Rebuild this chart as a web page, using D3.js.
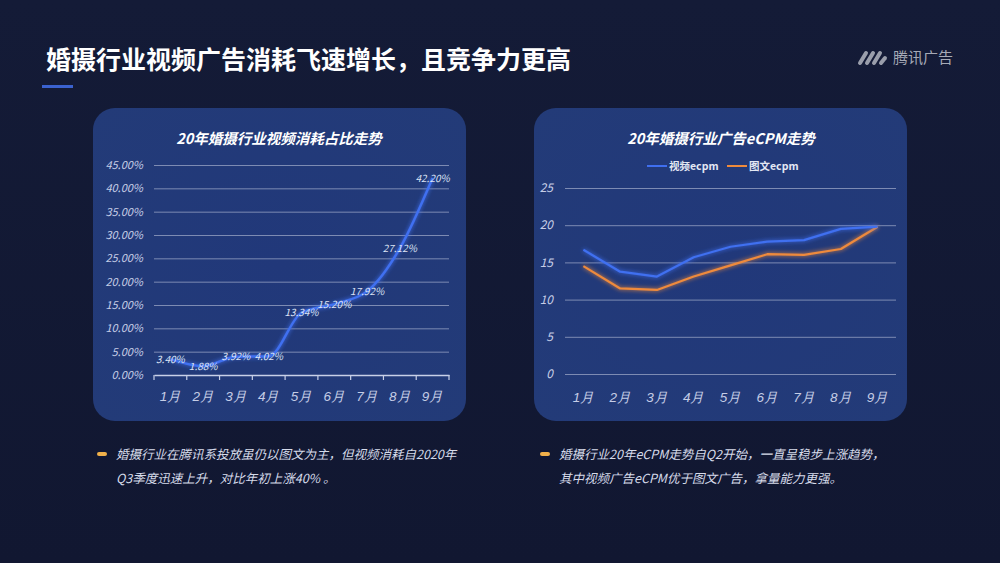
<!DOCTYPE html>
<html>
<head>
<meta charset="utf-8">
<script src="https://cdn.jsdelivr.net/npm/d3@7"></script>
<style>
  html, body { margin: 0; padding: 0; background: #131a35; }
  svg { display: block; font-family: "Noto Sans CJK SC", "Noto Sans", sans-serif; }
</style>
</head>
<body>
<div id="chart"></div>
<script>
const months = ["1月", "2月", "3月", "4月", "5月", "6月", "7月", "8月", "9月"];
const videoShare = [3.40, 1.88, 3.92, 4.02, 13.34, 15.20, 17.92, 27.12, 42.20];
const shareTicks = [0, 5, 10, 15, 20, 25, 30, 35, 40, 45];
const videoEcpm = [16.7, 13.75, 13.1, 15.7, 17.1, 17.8, 18.0, 19.5, 19.8];
const imageEcpm = [14.5, 11.5, 11.3, 13.1, 14.6, 16.1, 16.0, 16.8, 19.8];
const ecpmTicks = [0, 5, 10, 15, 20, 25];

const W = 1000, H = 563;
const svg = d3.select("#chart").append("svg")
    .attr("width", W)
    .attr("height", H);

const defs = svg.append("defs");

const bg = defs.append("linearGradient").attr("id", "bgGrad")
    .attr("x1", 0).attr("y1", 0).attr("x2", 0).attr("y2", 1);
bg.append("stop").attr("offset", "0%").attr("stop-color", "#141b37");
bg.append("stop").attr("offset", "100%").attr("stop-color", "#111731");

const panelGrad = defs.append("radialGradient").attr("id", "panelGrad")
    .attr("cx", "50%").attr("cy", "50%").attr("r", "70%");
panelGrad.append("stop").attr("offset", "0%").attr("stop-color", "#21387a");
panelGrad.append("stop").attr("offset", "100%").attr("stop-color", "#233b78");

const glow = defs.append("filter").attr("id", "glow")
    .attr("x", "-10%").attr("y", "-30%").attr("width", "120%").attr("height", "160%");
glow.append("feGaussianBlur").attr("stdDeviation", 2.2).attr("result", "blur");
const merge = glow.append("feMerge");
merge.append("feMergeNode").attr("in", "blur");
merge.append("feMergeNode").attr("in", "SourceGraphic");

svg.append("rect").attr("width", W).attr("height", H).attr("fill", "url(#bgGrad)");

// page title
svg.append("text")
    .attr("x", 46).attr("y", 69)
    .attr("fill", "#ffffff")
    .attr("font-size", 25)
    .attr("font-weight", "bold")
    .text("婚摄行业视频广告消耗飞速增长，且竞争力更高");

svg.append("rect")
    .attr("x", 42).attr("y", 85).attr("width", 31).attr("height", 3)
    .attr("fill", "#3b62cf");

// logo
const logo = svg.append("g").attr("transform", "translate(858,50)");
[0, 7, 14].forEach(dx => {
    logo.append("line")
        .attr("x1", dx + 2).attr("y1", 13)
        .attr("x2", dx + 8).attr("y2", 3)
        .attr("stroke", "#9a9eab").attr("stroke-width", 4)
        .attr("stroke-linecap", "round");
});
logo.append("line")
    .attr("x1", 23).attr("y1", 13).attr("x2", 27).attr("y2", 8)
    .attr("stroke", "#9a9eab").attr("stroke-width", 4).attr("stroke-linecap", "round");
svg.append("text")
    .attr("x", 893).attr("y", 63)
    .attr("fill", "#a6aab6")
    .attr("font-size", 15)
    .text("腾讯广告");

// panels
function panel(x) {
    svg.append("rect")
        .attr("x", x).attr("y", 108)
        .attr("width", 373).attr("height", 313)
        .attr("rx", 22)
        .attr("fill", "url(#panelGrad)");
}
panel(93);
panel(534);

// ---------- left chart ----------
const left = { x0: 154, x1: 449, y0: 375, y1: 165 };

svg.append("text")
    .attr("x", 279).attr("y", 144)
    .attr("text-anchor", "middle")
    .attr("fill", "#ffffff")
    .attr("font-size", 14.5)
    .attr("font-weight", "bold")
    .attr("font-style", "italic")
    .text("20年婚摄行业视频消耗占比走势");

const xL = d3.scaleBand().domain(months).range([left.x0, left.x1]);
const yL = d3.scaleLinear().domain([0, 45]).range([left.y0, left.y1]);

svg.append("g")
    .attr("transform", `translate(${left.x0},0)`)
    .call(d3.axisLeft(yL).tickValues(shareTicks.slice(1)).tickSize(-(left.x1 - left.x0)).tickFormat(""))
    .call(g => g.select(".domain").remove())
    .call(g => g.selectAll("line").attr("stroke", "#7d8bb3").attr("stroke-width", 1));

svg.append("g")
    .call(g => g.selectAll("text").data(shareTicks).enter().append("text")
        .attr("x", 143).attr("y", d => yL(d))
        .attr("dy", "0.35em")
        .attr("text-anchor", "end")
        .attr("fill", "#c5cde6")
        .attr("font-size", 11)
        .attr("font-style", "italic")
        .text(d => d.toFixed(2) + "%"));

const xAxisL = svg.append("g")
    .attr("transform", `translate(0,${left.y0})`)
    .call(d3.axisBottom(xL).tickSize(0).tickPadding(16));
xAxisL.select(".domain").attr("stroke", "#c8d0e8").attr("stroke-width", 1.5);
xAxisL.selectAll("text")
    .attr("fill", "#c5cde6")
    .attr("font-size", 13.5)
    .attr("font-style", "italic");
xAxisL.selectAll(".bound").data(d3.range(months.length + 1)).enter().append("line")
    .attr("x1", i => left.x0 + i * xL.bandwidth())
    .attr("x2", i => left.x0 + i * xL.bandwidth())
    .attr("y1", 0).attr("y2", 5)
    .attr("stroke", "#c8d0e8").attr("stroke-width", 1.2);

const lineL = d3.line()
    .x((d, i) => xL(months[i]) + xL.bandwidth() / 2)
    .y(d => yL(d))
    .curve(d3.curveMonotoneX);

svg.append("path")
    .datum(videoShare)
    .attr("d", lineL)
    .attr("fill", "none")
    .attr("stroke", "#3f6ff0")
    .attr("stroke-width", 2.5)
    .attr("filter", "url(#glow)");

svg.selectAll(".share-label")
    .data(videoShare)
    .enter().append("text")
    .attr("class", "share-label")
    .attr("x", (d, i) => xL(months[i]) + xL.bandwidth() / 2)
    .attr("y", d => yL(d))
    .attr("dy", "0.35em")
    .attr("text-anchor", "middle")
    .attr("fill", "#dde3f5")
    .attr("font-size", 10)
    .attr("font-style", "italic")
    .text(d => d.toFixed(2) + "%");

// ---------- right chart ----------
const right = { x0: 565, x1: 896, y0: 374, y1: 188 };

svg.append("text")
    .attr("x", 721).attr("y", 144)
    .attr("text-anchor", "middle")
    .attr("fill", "#ffffff")
    .attr("font-size", 14.5)
    .attr("font-weight", "bold")
    .attr("font-style", "italic")
    .text("20年婚摄行业广告eCPM走势");

const legend = [
    { name: "视频ecpm", color: "#3f6ff0", x: 647 },
    { name: "图文ecpm", color: "#ee8a3c", x: 727 }
];
legend.forEach(l => {
    svg.append("line")
        .attr("x1", l.x).attr("x2", l.x + 20)
        .attr("y1", 166).attr("y2", 166)
        .attr("stroke", l.color).attr("stroke-width", 2);
    svg.append("text")
        .attr("x", l.x + 22).attr("y", 170)
        .attr("fill", "#e4e8f4")
        .attr("font-size", 10.5)
        .attr("font-weight", "bold")
        .text(l.name);
});

const xR = d3.scaleBand().domain(months).range([right.x0, right.x1]);
const yR = d3.scaleLinear().domain([0, 25]).range([right.y0, right.y1]);

svg.append("g")
    .attr("transform", `translate(${right.x0},0)`)
    .call(d3.axisLeft(yR).tickValues(ecpmTicks).tickSize(-(right.x1 - right.x0)).tickFormat(""))
    .call(g => g.select(".domain").remove())
    .call(g => g.selectAll("line").attr("stroke", "#7d8bb3").attr("stroke-width", 1));

svg.append("g")
    .call(g => g.selectAll("text").data(ecpmTicks).enter().append("text")
        .attr("x", 553).attr("y", d => yR(d))
        .attr("dy", "0.35em")
        .attr("text-anchor", "end")
        .attr("fill", "#c5cde6")
        .attr("font-size", 12)
        .attr("font-style", "italic")
        .text(d => d));

const xAxisR = svg.append("g")
    .attr("transform", `translate(0,${right.y0})`)
    .call(d3.axisBottom(xR).tickSize(0).tickPadding(18));
xAxisR.select(".domain").remove();
xAxisR.selectAll("text")
    .attr("fill", "#c5cde6")
    .attr("font-size", 13.5)
    .attr("font-style", "italic");

const lineR = d3.line()
    .x((d, i) => xR(months[i]) + xR.bandwidth() / 2)
    .y(d => yR(d));

[{ data: imageEcpm, color: "#ee8a3c" }, { data: videoEcpm, color: "#3f6ff0" }].forEach(s => {
    svg.append("path")
        .datum(s.data)
        .attr("d", lineR)
        .attr("fill", "none")
        .attr("stroke", s.color)
        .attr("stroke-width", 2.2)
        .attr("stroke-linejoin", "round")
        .attr("filter", "url(#glow)");
});

// ---------- notes ----------
const notes = [
    { x: 97, lines: ["婚摄行业在腾讯系投放虽仍以图文为主，但视频消耗自2020年", "Q3季度迅速上升，对比年初上涨40% 。"] },
    { x: 540, lines: ["婚摄行业20年eCPM走势自Q2开始，一直呈稳步上涨趋势，", "其中视频广告eCPM优于图文广告，拿量能力更强。"] }
];
notes.forEach(n => {
    svg.append("rect")
        .attr("x", n.x).attr("y", 452)
        .attr("width", 10).attr("height", 4)
        .attr("rx", 2)
        .attr("fill", "#f0b04a");
    n.lines.forEach((t, i) => {
        svg.append("text")
            .attr("x", n.x + 19).attr("y", 459 + i * 24)
            .attr("fill", "#d6dbea")
            .attr("font-size", 12.5)
            .attr("font-style", "italic")
            .text(t);
    });
});
</script>
</body>
</html>
